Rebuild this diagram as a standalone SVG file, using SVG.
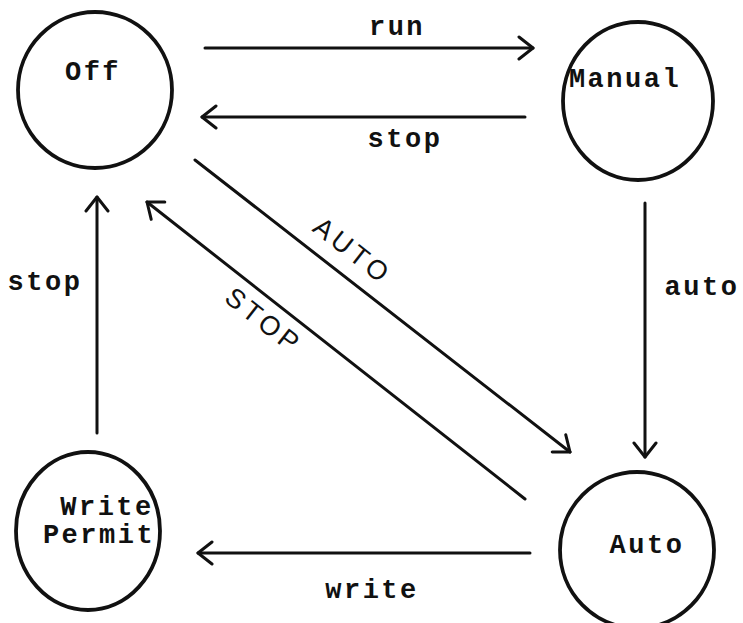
<svg xmlns="http://www.w3.org/2000/svg" width="743" height="623" viewBox="0 0 743 623">
<style>
.node{fill:#fff;stroke:#111;stroke-width:3.8}
.edge{stroke:#111;stroke-width:3;fill:none;stroke-linecap:round}
.lbl{font-family:"Liberation Mono","DejaVu Sans Mono",monospace;font-size:27px;font-weight:bold;letter-spacing:2.5px;fill:#111;text-anchor:middle}
.hand{font-family:"Liberation Sans","DejaVu Sans",sans-serif;font-size:27px;fill:#111;text-anchor:middle;letter-spacing:4px}
</style>
<defs>
<marker id="arr" markerUnits="userSpaceOnUse" viewBox="0 0 18 26" refX="16" refY="13" markerWidth="18" markerHeight="26" orient="auto">
<path d="M2,2 L16,13 L2,24" fill="none" stroke="#111" stroke-width="3" stroke-linecap="round" stroke-linejoin="round"/>
</marker>
</defs>
<rect width="743" height="623" fill="#fff"/>
<g id="connectors">
<line class="edge" x1="205" y1="48" x2="533" y2="48" marker-end="url(#arr)"/>
<text class="lbl" x="397" y="35">run</text>
<line class="edge" x1="525" y1="117" x2="202" y2="117" marker-end="url(#arr)"/>
<text class="lbl" x="405" y="147">stop</text>
<line class="edge" x1="195" y1="160" x2="570" y2="452" marker-end="url(#arr)"/>
<text class="hand" transform="translate(347,258) rotate(38)">AUTO</text>
<line class="edge" x1="525" y1="499" x2="147" y2="202" marker-end="url(#arr)"/>
<text class="hand" transform="translate(258,328) rotate(38)">STOP</text>
<line class="edge" x1="645" y1="203" x2="645" y2="457" marker-end="url(#arr)"/>
<text class="lbl" x="702" y="295">auto</text>
<line class="edge" x1="530" y1="553" x2="198" y2="553" marker-end="url(#arr)"/>
<text class="lbl" x="372" y="598">write</text>
<line class="edge" x1="97" y1="433" x2="97" y2="197" marker-end="url(#arr)"/>
<text class="lbl" x="45" y="290">stop</text>
</g>
<g id="node-off">
<ellipse class="node" cx="95" cy="90" rx="77" ry="78"/>
<text class="lbl" x="93" y="80">Off</text>
</g>
<g id="node-manual">
<ellipse class="node" cx="638" cy="101" rx="75" ry="79"/>
<text class="lbl" x="625" y="87">Manual</text>
</g>
<g id="node-writepermit">
<ellipse class="node" cx="88" cy="531" rx="72" ry="79"/>
<text class="lbl" x="107" y="515">Write</text>
<text class="lbl" x="99" y="543">Permit</text>
</g>
<g id="node-auto">
<ellipse class="node" cx="637" cy="550" rx="77" ry="78"/>
<text class="lbl" x="647" y="553">Auto</text>
</g>
</svg>
